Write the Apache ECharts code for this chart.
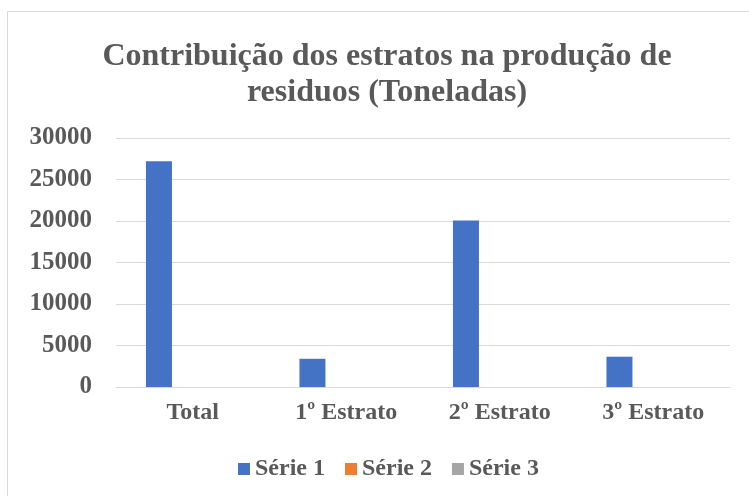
<!DOCTYPE html>
<html>
<head>
<meta charset="utf-8">
<script src="https://cdn.jsdelivr.net/npm/echarts@6/dist/echarts.min.js"></script>
<style>
  html, body { margin: 0; padding: 0; background: #fff; }
  #chart { width: 749px; height: 496px; }
</style>
</head>
<body>
<div id="chart"></div>
<script>
const categories = ["Total", "1º Estrato", "2º Estrato", "3º Estrato"];
const serie1 = [27200, 3400, 20050, 3650];
const serie2 = [0, 0, 0, 0];
const serie3 = [0, 0, 0, 0];
const seriesNames = ["Série 1", "Série 2", "Série 3"];
const seriesColors = ["#4472c4", "#ed7d31", "#a5a5a5"];

const font = "'Liberation Serif', 'Times New Roman', serif";
const textGray = "#595959";

const chart = echarts.init(document.getElementById("chart"), null, { renderer: "canvas" });

const option = {
  animation: false,
  textStyle: { fontFamily: font },
  graphic: [
    {
      type: "rect",
      shape: { x: 7.5, y: 11.5, width: 760, height: 500 },
      style: { fill: "none", stroke: "#d9d9d9", lineWidth: 1 },
      silent: true,
    },
  ],
  title: {
    text: "Contribuição dos estratos na produção de\nresiduos (Toneladas)",
    left: 382,
    top: 34,
    textAlign: "center",
    textStyle: {
      fontFamily: font,
      fontSize: 32,
      fontWeight: "bold",
      color: textGray,
      lineHeight: 36,
    },
  },
  legend: {
    data: seriesNames,
    top: 452,
    left: 233,
    itemWidth: 12,
    itemHeight: 12,
    itemGap: 20,
    icon: "rect",
    textStyle: { fontFamily: font, fontSize: 24, fontWeight: "bold", color: textGray, padding: [0, 0, 0, 0] },
  },
  grid: { left: 116, right: 19, top: 138, bottom: 109, containLabel: false },
  xAxis: {
    type: "category",
    data: categories,
    axisLine: { lineStyle: { color: "#d9d9d9", width: 1 } },
    axisTick: { show: false },
    axisLabel: { fontFamily: font, fontSize: 24, fontWeight: "bold", color: textGray, margin: 14 },
  },
  yAxis: {
    type: "value",
    min: 0,
    max: 30000,
    interval: 5000,
    axisLine: { show: false },
    axisTick: { show: false },
    splitLine: { lineStyle: { color: "#d9d9d9", width: 1 } },
    axisLabel: {
      fontFamily: font,
      fontSize: 25,
      fontWeight: "bold",
      color: textGray,
      margin: 24,
      formatter: (v) => String(v),
    },
  },
  series: [serie1, serie2, serie3].map((d, i) => ({
    name: seriesNames[i],
    type: "bar",
    data: d,
    barWidth: 26,
    barGap: "30%",
    itemStyle: { color: seriesColors[i] },
  })),
};

chart.setOption(option);
</script>
</body>
</html>
